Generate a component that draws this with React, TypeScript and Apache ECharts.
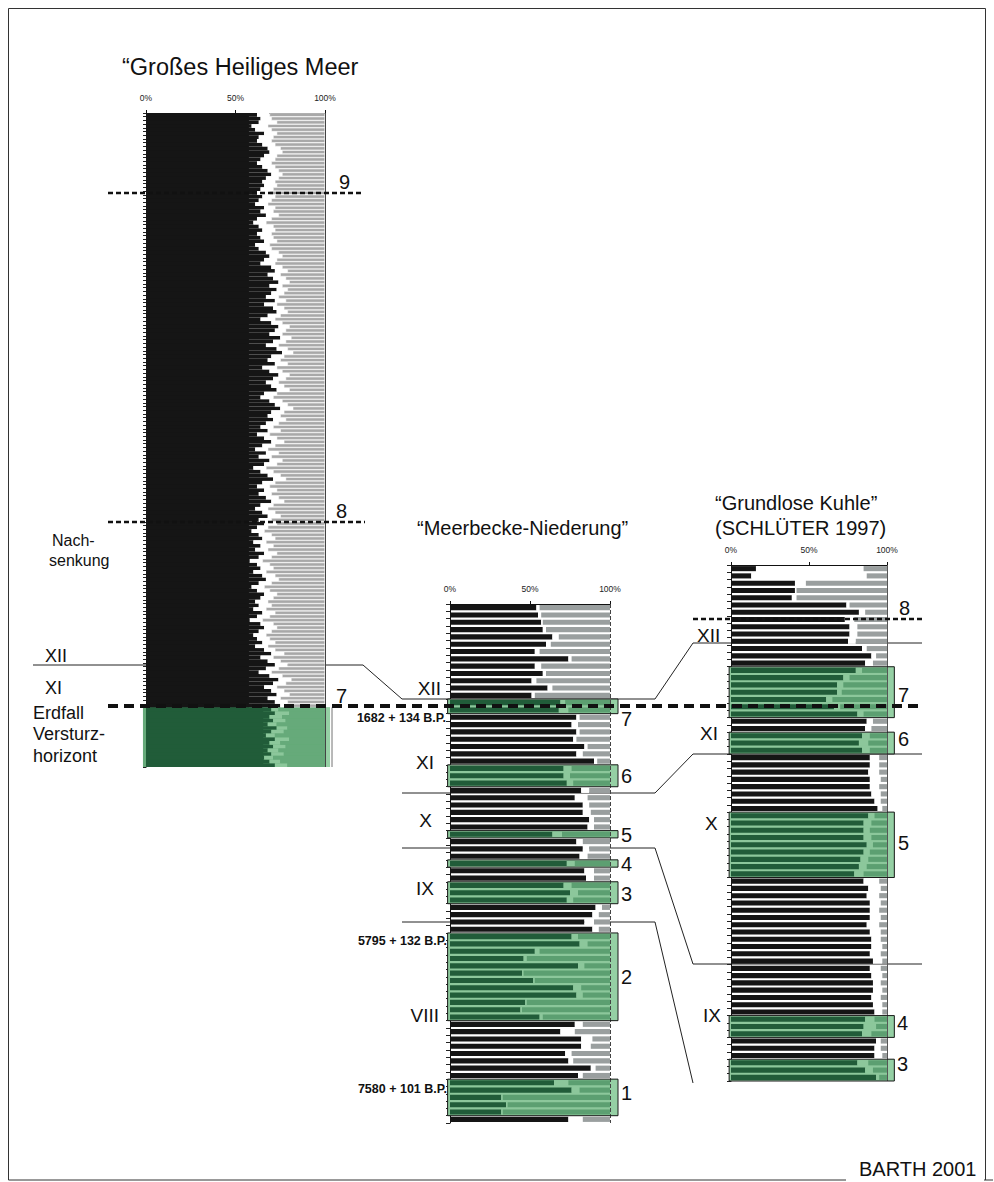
import React, { useEffect, useRef } from "react";
import * as echarts from "echarts";

const FONT = "'Liberation Sans', Arial, Helvetica, sans-serif";

// ---------- Panel 1: "Großes Heiliges Meer" (160 sediment rows + 16 rows Versturzhorizont)
const ghmDark = [
  62, 64, 63, 59, 61, 66, 63, 62, 65, 68, 69, 66, 64, 62, 65, 68, 70, 67, 65, 66, 64,
  62, 65, 63, 61, 66, 64, 67, 62, 60, 63, 65, 62, 64, 66, 61, 63, 67, 69, 66, 64,
  70, 72, 68, 71, 74, 69, 73, 70, 67, 72,
  66, 71, 73, 68, 64, 70, 74, 72, 69, 75, 71, 67, 73, 76, 70, 68, 72, 65, 69, 74, 71, 67, 70, 73, 66, 64, 69, 72, 75, 70, 68, 71, 67,
  64, 68, 62, 66, 70, 65, 61, 67, 63, 69, 66, 60, 64, 68, 71, 65, 62, 66, 63, 67, 70, 64, 61, 65, 68, 63, 66,
  62, 59, 63, 65, 60, 64, 61, 66, 63, 58, 62, 64, 60, 65, 67, 63, 59, 62, 66, 64, 61, 63, 60, 65, 62, 58, 64, 66, 63, 60, 62, 65, 61,
  66, 70, 64, 68, 72, 67, 63, 69, 74, 71, 66, 70, 73, 68, 72, 75,
  70, 72, 69, 71, 68, 73, 70, 67, 72, 69, 71, 68, 70, 66, 69, 72,
];
const ghmGrayStart = [
  69, 70, 73, 68, 70, 73, 71, 70, 72, 75, 76, 73, 72, 70, 72, 74, 76, 74, 72, 73, 71,
  69, 72, 70, 68, 72, 71, 74, 70, 67, 71, 72, 70, 71, 73, 69, 70, 74, 76, 73, 72,
  76, 79, 75, 78, 80, 76, 79, 77, 74, 78,
  73, 77, 79, 75, 72, 76, 80, 78, 76, 81, 78, 74, 79, 82, 77, 75, 79, 73, 76, 80, 78, 74, 77, 80, 73, 71, 76, 79, 82, 77, 75, 78, 74,
  71, 75, 69, 73, 77, 72, 68, 74, 70, 76, 73, 67, 71, 75, 78, 72, 69, 73, 70, 74, 77, 71, 68, 72, 75, 70, 73,
  68, 66, 70, 72, 67, 71, 68, 73, 70, 65, 69, 71, 67, 72, 74, 70, 66, 69, 73, 71, 68, 70, 67, 72, 69, 65, 71, 73, 70, 67, 69, 72, 68,
  72, 77, 71, 75, 79, 74, 70, 76, 81, 78, 73, 77, 80, 75, 79, 82,
  74, 80, 76, 78, 73, 79, 77, 72, 80, 75, 78, 74, 77, 71, 75, 79,
];
const ghmZones: [number, number, string][] = [[160, 175, ""]];
const ghmSedimentRows: [number, number] = [0, 159];

// ---------- Panel 2: "Meerbecke-Niederung"
const mnDark = [
  54, 55, 57, 58, 64, 60, 53, 74, 53, 58, 51, 61, 51,
  69, 68,
  79, 76, 79, 77, 84, 79, 90,
  71, 71, 73,
  82, 78, 83, 83, 87, 86,
  64,
  79, 83, 81,
  73,
  84, 85,
  71, 75, 73,
  91, 89, 84, 89,
  76, 81, 53, 46, 80, 45, 52, 77, 79, 47, 44, 56,
  78, 69, 82, 82, 72, 74, 88, 80,
  65, 76, 32, 35, 32,
  74,
];
const mnGrayStart = [
  56, 57, 58, 60, 68, 63, 56, 76, 57, 60, 54, 64, 53,
  72, 74,
  81, 80, 81, 79, 86, 83, 92,
  76, 75, 77,
  87, 86, 87, 88, 90, 90,
  70,
  83, 87, 86,
  78,
  90, 90,
  76, 80, 77,
  95, 93, 90, 93,
  80, 86, 56, 48, 84, 46, 53, 82, 83, 48, 45, 58,
  83, 78, 89, 88, 76, 77, 91, 83,
  74, 81, 33, 36, 33,
  83,
];
const mnZones: [number, number, string][] = [
  [13, 14, "7"], [22, 24, "6"], [31, 31, "5"], [35, 35, "4"], [38, 40, "3"], [45, 56, "2"], [65, 69, "1"],
];

// ---------- Panel 3: "Grundlose Kuhle"
const gkDark = [
  16, 13, 41, 41, 39, 74, 82, 73, 76, 76, 75, 84, 90, 86,
  80, 72, 68, 68, 61, 66, 81,
  87, 86,
  84, 82, 84,
  89, 89, 88, 89, 89, 90, 92, 94,
  88, 85, 85, 85, 87, 85, 83, 82, 79,
  85, 88, 87, 89, 89, 89, 87, 89, 90, 90, 89, 91, 89, 90, 91, 91, 90, 91, 92,
  86, 85, 84,
  93, 92, 92,
  81, 86, 93,
];
const gkGrayStart = [
  85, 87, 48, 42, 42, 76, 86, 79, 81, 81, 80, 87, 93, 91,
  84, 76, 72, 71, 65, 70, 85,
  91, 90,
  89, 88, 89,
  95, 95, 95, 96, 95, 96, 96, 97,
  92, 90, 89, 90, 91, 89, 88, 87, 85,
  95, 96, 95, 96, 95, 96, 95, 96, 96, 97, 96, 97, 96, 97, 96, 97, 96, 97, 97,
  92, 93, 90,
  96, 96, 97,
  88, 91, 95,
];
const gkZones: [number, number, string][] = [
  [14, 20, "7"], [23, 25, "6"], [34, 42, "5"], [62, 64, "4"], [68, 70, "3"],
];

const xTickValues = [0, 50, 100];

const COL = {
  black: "#151515",
  dg: "#215c39",
  lg: "#8cc79b",
  strip: "#95d0a4",
};

type PanelOpt = {
  gap: string;
  grayBorder: number;
  gray: string;
  mg: string;
  boxL: number;
  boxR: number;
  outline: "box" | "right";
  edgeType: "solid" | "dashed";
  edgeColor: string;
  solidBand?: boolean;
  sediment?: [number, number];
};

function panelSeries(gi: number, dark: number[], grayStart: number[], zones: [number, number, string][], o: PanelOpt) {
  const inZone = (i: number) => zones.some((z) => i >= z[0] && i <= z[1]);
  const stack = "p" + gi;
  const common = { type: "bar", stack, xAxisIndex: gi, yAxisIndex: gi, barCategoryGap: o.gap, silent: true, z: 3 };
  const s1 = dark.map((v, i) => ({ value: v, itemStyle: { color: inZone(i) ? COL.dg : COL.black } }));
  const s2 = dark.map((v, i) => ({
    value: Math.max(0, grayStart[i] - v),
    itemStyle: { color: inZone(i) ? COL.lg : "#ffffff" },
  }));
  const s3 = grayStart.map((gs, i) => {
    const g = inZone(i);
    return {
      value: 100 - Math.max(gs, dark[i]),
      itemStyle: g
        ? { color: o.mg }
        : { color: o.gray, borderColor: "#ffffff", borderWidth: o.grayBorder },
    };
  });
  const zoneData = zones.map((z) => [0, z[0], z[1]]);
  const bandRect = (api: any, xl: number, xr: number) => {
    const s = api.value(1);
    const e = api.value(2);
    const h = api.size([0, 1])[1];
    const pL = api.coord([xl, s]);
    const pR = api.coord([xr, e]);
    const p100 = api.coord([100, s]);
    const y0 = Math.min(pL[1], pR[1]) - h / 2;
    const y1 = Math.max(pL[1], pR[1]) + h / 2;
    return { x0: pL[0], x1: pR[0], x100: p100[0], y0, y1 };
  };
  const out: any[] = [];
  if (o.solidBand) {
    const bd: any[] = [];
    if (o.sediment) {
      const rows = dark.slice(o.sediment[0], o.sediment[1] + 1);
      bd.push([Math.min(...rows) - 0.5, o.sediment[0], o.sediment[1], 0]);
    }
    zones.forEach((z) => {
      const rows = dark.slice(z[0], z[1] + 1);
      bd.push([Math.min(...rows) - 0.5, z[0], z[1], 1]);
    });
    out.push({
      type: "custom",
      xAxisIndex: gi,
      yAxisIndex: gi,
      z: 2,
      silent: true,
      clip: false,
      encode: { x: 0, y: 1 },
      data: bd,
      renderItem: (_p: any, api: any) => {
        const r = bandRect(api, 0, api.value(0));
        return {
          type: "rect",
          shape: { x: r.x0, y: r.y0, width: r.x1 - r.x0, height: r.y1 - r.y0 },
          style: { fill: api.value(3) ? COL.dg : COL.black },
        };
      },
    });
  }
  out.push(
    {
      type: "custom",
      xAxisIndex: gi,
      yAxisIndex: gi,
      z: 1,
      silent: true,
      clip: false,
      encode: { x: 0, y: 1 },
      data: zoneData,
      renderItem: (_p: any, api: any) => {
        const r = bandRect(api, o.boxL, o.boxR);
        return {
          type: "group",
          children: [
            { type: "rect", shape: { x: r.x0, y: r.y0, width: r.x1 - r.x0, height: r.y1 - r.y0 }, style: { fill: o.solidBand ? o.mg : COL.lg } },
            { type: "rect", shape: { x: r.x100, y: r.y0, width: r.x1 - r.x100, height: r.y1 - r.y0 }, style: { fill: COL.strip } },
          ],
        };
      },
    },
    { ...common, name: "a" + gi, data: s1 },
    { ...common, name: "b" + gi, data: s2 },
    {
      ...common,
      name: "c" + gi,
      data: s3,
      markLine: {
        silent: true,
        symbol: ["none", "none"],
        label: { show: false },
        lineStyle: { color: o.edgeColor, width: 1, type: o.edgeType },
        data: [{ xAxis: 100 }],
        z: 5,
      },
    },
    {
      type: "custom",
      xAxisIndex: gi,
      yAxisIndex: gi,
      z: 6,
      silent: true,
      clip: false,
      encode: { x: 0, y: 1 },
      data: zoneData,
      renderItem: (_p: any, api: any) => {
        const r = bandRect(api, o.boxL, o.boxR);
        if (o.outline === "right") {
          return {
            type: "line",
            shape: { x1: r.x1 + 2, y1: r.y0, x2: r.x1 + 2, y2: r.y1 },
            style: { stroke: "#8a8a8a", lineWidth: 1.2 },
          };
        }
        return {
          type: "rect",
          shape: { x: r.x0, y: r.y0, width: r.x1 - r.x0, height: r.y1 - r.y0 },
          style: { fill: "none", stroke: "#1a1a1a", lineWidth: 1 },
        };
      },
    }
  );
  return out;
}

function xAxisFor(gi: number) {
  return {
    gridIndex: gi,
    type: "value",
    position: "top",
    min: xTickValues[0],
    max: xTickValues[xTickValues.length - 1],
    interval: xTickValues[1] - xTickValues[0],
    axisLine: { show: true, lineStyle: { color: "#111", width: 1 } },
    axisTick: { show: true, length: 3, lineStyle: { color: "#111" } },
    splitLine: { show: false },
    axisLabel: { formatter: "{value}%", fontSize: 8.5, color: "#222", fontFamily: FONT, margin: 11 },
  };
}

function yAxisFor(gi: number, n: number, tickLen: number) {
  return {
    gridIndex: gi,
    type: "category",
    inverse: true,
    data: Array.from({ length: n }, (_, i) => String(i + 1)),
    axisLine: { show: true, lineStyle: { color: "#111", width: 1 } },
    axisTick: { show: true, length: tickLen, interval: 0, lineStyle: { color: "#222" } },
    axisLabel: { show: false },
    splitLine: { show: false },
  };
}

const txt = (text: string, x: number, y: number, size: number, extra: any = {}) => ({
  type: "text",
  x,
  y,
  z: 60,
  silent: true,
  style: {
    text,
    fontSize: size,
    fontFamily: FONT,
    fill: "#111",
    align: extra.align || "left",
    verticalAlign: "middle",
    fontWeight: extra.bold ? "bold" : "normal",
  },
});

const pline = (points: number[][], width: number, dash: number[] | null, z: number, color = "#222") => ({
  type: "polyline",
  z,
  silent: true,
  shape: { points },
  style: { stroke: color, lineWidth: width, fill: null, lineDash: dash || undefined },
});

export default function App() {
  const ref = useRef<HTMLDivElement>(null);
  useEffect(() => {
    const el = ref.current!;
    const chart = echarts.init(el, null, { renderer: "svg" });
    const option: any = {
      animation: false,
      backgroundColor: "#ffffff",
      grid: [
        { left: 146, top: 113, width: 179, height: 654 },
        { left: 450, top: 604, width: 160, height: 519 },
        { left: 731, top: 565, width: 156, height: 516 },
      ],
      xAxis: [xAxisFor(0), xAxisFor(1), xAxisFor(2)],
      yAxis: [yAxisFor(0, ghmDark.length, 3), yAxisFor(1, mnDark.length, 4), yAxisFor(2, gkDark.length, 4)],
      series: [
        ...panelSeries(0, ghmDark, ghmGrayStart, ghmZones, {
          gap: "0%", grayBorder: 0.5, gray: "#a8a8a8", mg: "#66aa7a", boxL: -1.7, boxR: 102.8,
          outline: "right", edgeType: "solid", edgeColor: "#444", solidBand: true, sediment: ghmSedimentRows,
        }),
        ...panelSeries(1, mnDark, mnGrayStart, mnZones, {
          gap: "30%", grayBorder: 0, gray: "#9a9f9f", mg: "#5c9f71", boxL: -1.5, boxR: 105,
          outline: "box", edgeType: "dashed", edgeColor: "#444",
        }),
        ...panelSeries(2, gkDark, gkGrayStart, gkZones, {
          gap: "30%", grayBorder: 0, gray: "#9a9f9f", mg: "#5c9f71", boxL: -1.2, boxR: 104.7,
          outline: "box", edgeType: "solid", edgeColor: "#555",
        }),
      ],
      graphic: [
        // frame
        pline([[8.5, 1180], [8.5, 8.5], [985.5, 8.5], [985.5, 1180]], 1, null, 0, "#333"),
        pline([[8.5, 1180], [846, 1180]], 1, null, 0, "#333"),
        pline([[984, 1180], [993, 1180]], 1, null, 0, "#333"),
        // correlation lines
        pline([[33, 665], [363, 665], [402, 699], [655, 699], [693, 643], [922, 643]], 1, null, 0),
        pline([[402, 793], [655, 793], [693, 754], [922, 754]], 1, null, 0),
        pline([[402, 848], [655, 848], [693, 964], [922, 964]], 1, null, 0),
        pline([[402, 922], [655, 922], [693, 1083]], 1, null, 0),
        // dashed horizons
        pline([[108, 193], [362, 193]], 2.5, [5, 3], 50, "#111"),
        pline([[108, 522], [365, 522]], 2.5, [5, 3], 50, "#111"),
        pline([[693, 619], [925, 619]], 2.5, [5, 3], 50, "#111"),
        pline([[108, 706], [922, 706]], 4, [10, 6], 50, "#111"),
        // titles
        txt("\u201CGroßes Heiliges Meer", 122, 67, 23.5),
        txt("\u201CMeerbecke-Niederung\u201D", 417, 528, 20),
        txt("\u201CGrundlose Kuhle\u201D", 715, 503, 20),
        txt("(SCHLÜTER 1997)", 715, 528, 20),
        // panel 1 annotations
        txt("9", 339, 182, 20),
        txt("8", 336, 511, 20),
        txt("7", 336, 696, 20),
        txt("Nach-", 52, 540, 16),
        txt("senkung", 49, 560, 16),
        txt("XII", 45, 656, 18),
        txt("XI", 45, 688, 18),
        txt("Erdfall", 33, 713, 18),
        txt("Versturz-", 33, 734, 18),
        txt("horizont", 33, 756, 18),
        // panel 2 annotations
        txt("XII", 441, 688, 19, { align: "right" }),
        txt("XI", 434, 762, 19, { align: "right" }),
        txt("X", 432, 820, 19, { align: "right" }),
        txt("IX", 434, 888, 19, { align: "right" }),
        txt("VIII", 439, 1015, 19, { align: "right" }),
        txt("1682 + 134 B.P.", 446, 718, 12.5, { align: "right", bold: true }),
        txt("5795 + 132 B.P.", 447, 941, 12.5, { align: "right", bold: true }),
        txt("7580 + 101 B.P.", 447, 1089, 12.5, { align: "right", bold: true }),
        txt("7", 621, 719, 20),
        txt("6", 621, 776, 20),
        txt("5", 621, 835, 20),
        txt("4", 621, 864, 20),
        txt("3", 621, 894, 20),
        txt("2", 621, 977, 20),
        txt("1", 621, 1093, 20),
        // panel 3 annotations
        txt("8", 899, 608, 20),
        txt("7", 898, 695, 20),
        txt("6", 898, 739, 20),
        txt("5", 898, 843, 20),
        txt("4", 897, 1023, 20),
        txt("3", 897, 1064, 20),
        txt("XII", 697, 635, 19),
        txt("XI", 700, 733, 19),
        txt("X", 705, 823, 19),
        txt("IX", 703, 1015, 19),
        // credit
        txt("BARTH 2001", 859, 1169, 20),
      ],
    };
    chart.setOption(option);
    return () => chart.dispose();
  }, []);
  return (
    <div
      ref={ref}
      style={{ position: "fixed", left: 0, top: 0, width: 994, height: 1182, background: "#fff" }}
    />
  );
}
